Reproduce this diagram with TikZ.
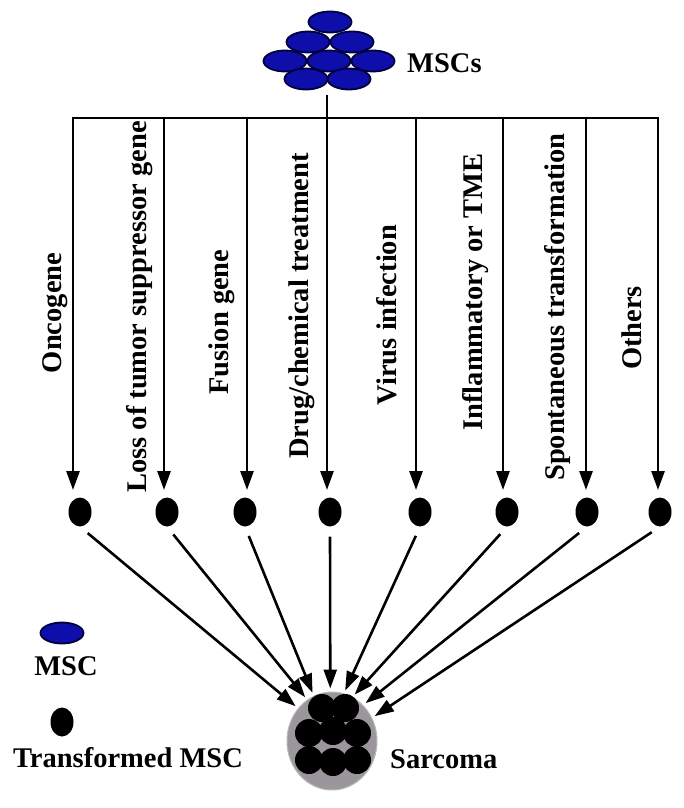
\documentclass[tikz,border=0pt]{standalone}
\usepackage{fontspec}
\setmainfont{Liberation Serif}
\usetikzlibrary{shapes.geometric, calc, positioning, arrows.meta}
\definecolor{mscfill}{RGB}{14,14,170}
\definecolor{mscline}{RGB}{0,0,60}
\definecolor{sarcgray}{RGB}{155,150,155}

\begin{document}
\begin{tikzpicture}[x=1pt, y=-1pt,
    lbl/.style={font=\fontsize{28.5}{30}\selectfont\bfseries, inner sep=0pt},
    cause/.style={lbl, rotate=90},
    msc/.style={ellipse, draw=mscline, fill=mscfill, line width=1.8pt,
      minimum width=43pt, minimum height=21pt, inner sep=0pt},
    tmsc/.style={ellipse, fill=black, minimum width=23pt, minimum height=29pt, inner sep=0pt},
    conn/.style={line width=2.6pt, -{Triangle[length=19pt,width=13pt]}}]
  \useasboundingbox (0,0) rectangle (683,808);

  % MSC cluster
  \foreach \x/\y [count=\i] in {330/22, 308/42, 352/42, 285/61, 329/61, 373/61, 306/79, 349/79}
    \node[msc] (m\i) at (\x,\y) {};
  \node[lbl, anchor=base west] (mscs) at (407,72) {MSCs};

  % stem and branches
  \coordinate (top) at (327,95);
  \coordinate (hub) at (327,118);
  \draw[line width=2.6pt] (top) -- (hub);
  \foreach \x [count=\i] in {73,164,247,327,416,503,586,658}
    \coordinate (t\i) at (\x,490);
  \foreach \i in {1,...,8}
    \draw[conn] (hub) -| (t\i);

  % causes
  \node[cause] (c1) at (55,313) {Oncogene};
  \node[cause] (c2) at (140,307) {Loss of tumor suppressor gene};
  \node[cause] (c3) at (222,322) {Fusion gene};
  \node[cause] (c4) at (302,306) {Drug/chemical treatment};
  \node[cause] (c5) at (387,315) {Virus infection};
  \node[cause] (c6) at (476,292) {Inflammatory or TME};
  \node[cause] (c7) at (557,307) {Spontaneous transformation};
  \node[cause] (c8) at (632,328) {Others};

  % transformed MSCs
  \foreach \x [count=\i] in {80,167,245,330,420,507,587,660}
    \node[tmsc] (d\i) at (\x,512) {};

  % sarcoma
  \node[ellipse, fill=sarcgray, draw=gray!55, line width=1pt,
    minimum width=90pt, minimum height=98pt] (sar) at (332,741) {};
  \foreach \x/\y in {322/708, 345/708, 309/733, 333/731, 357/733, 309/760, 333/762, 357/760}
    \fill (\x,\y) circle (14pt);
  \node[lbl, anchor=base west] (sarlbl) at (390,768) {Sarcoma};

  \foreach \i/\a in {1/136, 2/121, 3/112, 4/92, 5/76, 6/65, 7/49, 8/30}
    \draw[conn, shorten <=10pt, shorten >=3pt] (d\i.south) -- (sar.\a);

  % legend
  \node[msc] (legmsc) at (62,633) {};
  \node[lbl, anchor=base] (legmsclbl) at (66,675) {MSC};
  \node[tmsc] (legt) at (62,722) {};
  \node[lbl, anchor=base] (legtlbl) at (128,767) {Transformed MSC};
\end{tikzpicture}
\end{document}
